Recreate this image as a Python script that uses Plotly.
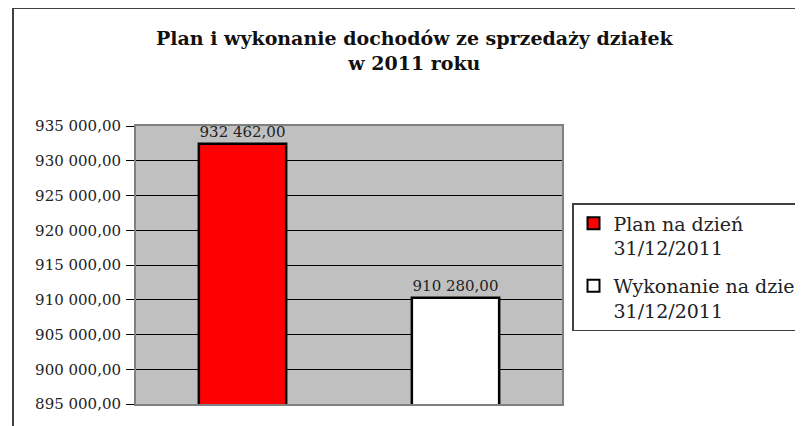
import plotly.graph_objects as go

# ---- data ----
series_names = ["Plan na dzień<br>31/12/2011", "Wykonanie na dzień<br>31/12/2011"]
categories = ["Plan", "Wykonanie"]
values = [932462.00, 910280.00]
colors = ["#FF0000", "#FFFFFF"]
title_text = "<b>Plan i wykonanie dochodów ze sprzedaży działek</b><br><b>w 2011 roku</b>"

# page body adds an 8px offset; design coordinates are window pixels
OFF = 8
W, H = 803 - OFF, 426 - OFF
ML = 136 - OFF
MT = 126 - OFF
PW, PH = 426, 278
MR = W - ML - PW
MB = H - MT - PH

def px_x(p):
    return (p - OFF - ML) / PW

def px_y(p):
    return (H - MB - (p - OFF)) / PH

SERIF = "DejaVu Serif"

fig = go.Figure()
for name, cat, val, col in zip(series_names, categories, values, colors):
    fig.add_trace(go.Bar(
        x=[cat], y=[val], name=name, legendgroup=cat,
        marker=dict(color=col, line=dict(color="#000000", width=2.5)),
        width=0.41,
        text=[val], texttemplate="%{y:,.2f}", textposition="outside",
        textfont=dict(family=SERIF, size=15, color="#222222"),
        cliponaxis=False,
    ))

fig.update_layout(
    width=W, height=H,
    margin=dict(l=ML, r=MR, t=MT, b=MB, autoexpand=False),
    paper_bgcolor="#FFFFFF",
    plot_bgcolor="#C0C0C0",
    barmode="overlay",
    separators=", ",
    showlegend=True,
    font=dict(family=SERIF, color="#222222"),
    legend=dict(
        xref="container", yref="container",
        x=(572 - OFF) / W, y=1 - (203 - OFF) / H, xanchor="left", yanchor="top",
        bgcolor="#FFFFFF", bordercolor="#404040", borderwidth=1.5,
        font=dict(family=SERIF, size=19, color="#222222"),
        tracegroupgap=10, itemsizing="constant", valign="top",
    ),
    xaxis=dict(
        showticklabels=False, ticks="", showgrid=False,
        showline=True, linecolor="#808080", linewidth=2, mirror=True,
        zeroline=False,
    ),
    yaxis=dict(
        range=[895000, 935000], dtick=5000, tick0=895000,
        tickformat=",.2f",
        showgrid=True, gridcolor="#000000", gridwidth=1,
        ticks="outside", ticklen=8, tickcolor="#000000", tickwidth=1,
        ticklabelstandoff=2,
        tickfont=dict(family=SERIF, size=15, color="#222222"),
        showline=True, linecolor="#808080", linewidth=2, mirror=True,
        zeroline=False,
    ),
    annotations=[dict(
        text=title_text, xref="paper", yref="paper",
        x=px_x(415), y=px_y(51), xanchor="center", yanchor="middle",
        showarrow=False, align="center",
        font=dict(family=SERIF, size=19, color="#111111"),
    )],
    shapes=[dict(
        type="rect", xref="paper", yref="paper",
        x0=px_x(13), x1=px_x(900), y0=px_y(8), y1=px_y(500),
        line=dict(color="#404040", width=2), fillcolor="rgba(0,0,0,0)",
        layer="above",
    )],
)

fig.write_html("out.html")
